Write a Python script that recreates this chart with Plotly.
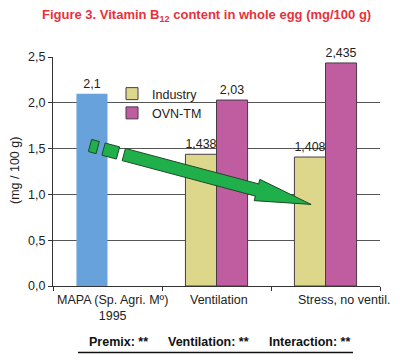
import plotly.graph_objects as go
import math

categories = ["MAPA", "Ventilation", "Stress"]
cat_labels = ["MAPA (Sp. Agri. Mº)<br>1995", "Ventilation", "Stress, no ventil."]
mapa_values = [2.1, None, None]
industry_values = [None, 1.438, 1.408]
ovn_values = [None, 2.03, 2.435]
y_ticks = [0, 0.5, 1.0, 1.5, 2.0, 2.5]

W, H = 400, 363
ML, MR, MT, MB = 53, 20, 57, 77
PW, PH = W - ML - MR, H - MT - MB

def px(x, y):
    return (x - ML) / PW, (H - MB - y) / PH

FONT = "Liberation Sans, Arial, sans-serif"
FS = 12.5

fig = go.Figure()
fig.add_trace(go.Bar(x=categories, y=mapa_values, offsetgroup="a", showlegend=False,
                     marker=dict(color="#68a2da", line=dict(width=0)),
                     texttemplate="%{y:.3~f}", textposition="outside", cliponaxis=False))
fig.add_trace(go.Bar(x=categories, y=industry_values, offsetgroup="a", name="Industry",
                     marker=dict(color="#ddd78c", line=dict(color="#4a3a48", width=1)),
                     texttemplate="%{y:.3~f}", textposition="outside", cliponaxis=False))
fig.add_trace(go.Bar(x=categories, y=ovn_values, offsetgroup="b", name="OVN-TM",
                     marker=dict(color="#c05ca0", line=dict(color="#4a3a48", width=1)),
                     texttemplate="%{y:.3~f}", textposition="outside", cliponaxis=False))

fig.update_traces(textfont=dict(family=FONT, size=FS, color="#222"))

# decorative green arrow (pixel geometry)
S = (90.0, 145.5)
B = (257.0, 190.0)
L = math.hypot(B[0] - S[0], B[1] - S[1])
d = ((B[0] - S[0]) / L, (B[1] - S[1]) / L)
n = (-d[1], d[0])

def P(s, w):
    x = S[0] + s * d[0] + w * n[0]
    y = S[1] + s * d[1] + w * n[1]
    return px(x, y)

def poly(pts):
    return "M " + " L ".join(f"{a:.5f},{b:.5f}" for a, b in pts) + " Z"

hw = 6.3
segs = [(0, 8), (14, 29), (35, L + 1)]
for s0, s1 in segs:
    fig.add_shape(type="path", xref="paper", yref="paper",
                  path=poly([P(s0, -hw), P(s1, -hw), P(s1, hw), P(s0, hw)]),
                  fillcolor="#1faf4b", line=dict(color="#1d4a25", width=1), layer="above")
fig.add_shape(type="path", xref="paper", yref="paper",
              path=poly([P(L, -hw), P(L, -11), P(L + 56, 0), P(L, 11), P(L, hw)]),
              fillcolor="#1faf4b", line=dict(color="#1d4a25", width=1), layer="above")
fig.add_shape(type="path", xref="paper", yref="paper",
              path=poly([P(L - 2, -hw + 0.6), P(L + 2, -hw + 0.6), P(L + 2, hw - 0.6), P(L - 2, hw - 0.6)]),
              fillcolor="#1faf4b", line=dict(width=0), layer="above")

# category labels
shifts = [5, 2, 18]
for c, lab, sh in zip(categories, cat_labels, shifts):
    fig.add_annotation(x=c, y=0, xref="x", yref="y", text=lab, showarrow=False,
                       yanchor="top", yshift=-5, xshift=sh,
                       font=dict(family=FONT, size=FS, color="#222"))

# bottom significance notes
for txt, xc in [("<b>Premix: **</b>", 118), ("<b>Ventilation: **</b>", 208), ("<b>Interaction: **</b>", 309)]:
    xx, yy = px(xc, 342)
    fig.add_annotation(x=xx, y=yy, xref="paper", yref="paper", text=txt, showarrow=False,
                       xanchor="center", yanchor="middle",
                       font=dict(family=FONT, size=12.5, color="#111"))
x0, y0 = px(78, 352.5)
x1, _ = px(353, 352.5)
fig.add_shape(type="line", xref="paper", yref="paper", x0=x0, x1=x1, y0=y0, y1=y0,
              line=dict(color="#111", width=1.5))

# title
tx, ty = px(206, 15)
fig.add_annotation(x=tx, y=ty, xref="paper", yref="paper",
                   text="<b>Figure 3. Vitamin B<sub>12</sub> content in whole egg (mg/100 g)</b>",
                   showarrow=False, xanchor="center", yanchor="middle",
                   font=dict(family=FONT, size=13, color="#e5323c"))

# y-axis title
yx, yy = px(15, 171)
fig.add_annotation(x=yx, y=yy, xref="paper", yref="paper", text="(mg / 100 g)",
                   textangle=-90, showarrow=False, xanchor="center", yanchor="middle",
                   font=dict(family=FONT, size=FS, color="#222"))

fig.update_layout(
    width=W, height=H,
    margin=dict(l=ML, r=MR, t=MT, b=MB, autoexpand=False),
    paper_bgcolor="white", plot_bgcolor="white",
    separators=",.",
    barmode="group", bargap=0.43, bargroupgap=0,
    legend=dict(x=px(112, 0)[0], y=px(0, 79)[1], xanchor="left", yanchor="top",
                bgcolor="rgba(0,0,0,0)", font=dict(family=FONT, size=FS, color="#222"),
                itemwidth=30, tracegroupgap=0),
    xaxis=dict(showticklabels=False, ticks="outside", tickson="boundaries", ticklen=4,
               tickcolor="#333", showline=True, linecolor="#333", linewidth=1,
               showgrid=False, range=[-0.5, 2.5], automargin=False),
    yaxis=dict(range=[0, 2.5], tickvals=y_ticks, tickformat=".1f", ticks="outside", ticklen=4,
               tickcolor="#333", showline=True, linecolor="#333", linewidth=1,
               showgrid=True, gridcolor="#555", gridwidth=1, zeroline=False, automargin=False,
               tickfont=dict(family=FONT, size=FS, color="#222")),
    showlegend=True,
)

fig.write_html("out.html", config={"displayModeBar": False},
               post_script="document.body.style.margin='0px';")
